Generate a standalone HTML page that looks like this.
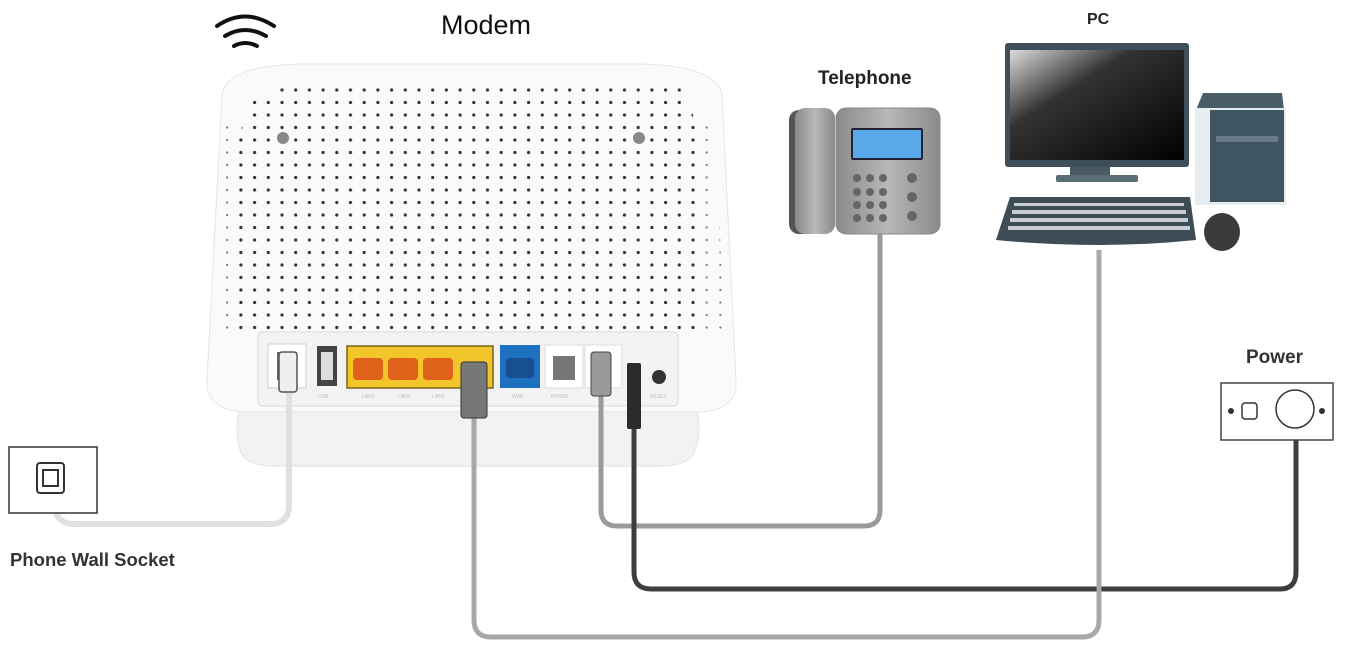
<!DOCTYPE html>
<html><head><meta charset="utf-8">
<style>
html,body{margin:0;padding:0;background:#fff;width:1365px;height:649px;overflow:hidden}
text{font-family:"Liberation Sans",sans-serif}
</style></head><body>
<svg width="1365" height="649" viewBox="0 0 1365 649" xmlns="http://www.w3.org/2000/svg">
<defs>
<pattern id="dots" x="2" y="84" width="13.7" height="12.5" patternUnits="userSpaceOnUse">
<circle cx="6" cy="6" r="1.6" fill="#333"/>
</pattern>
<pattern id="dots2" x="2" y="84" width="13.7" height="12.5" patternUnits="userSpaceOnUse">
<circle cx="6" cy="6" r="1.1" fill="#777"/>
</pattern>
<clipPath id="bodyclip"><path d="M280,88 L440,86 L680,88 L690,100 L698,140 L700,330 L238,330 L238,140 L250,100 Z"/></clipPath>
<clipPath id="edgeclip"><path d="M222,125 L238,125 L238,330 L225,340 Z M700,125 L716,125 L724,340 L700,330 Z"/></clipPath>
<linearGradient id="scr" x1="0" y1="0" x2="1" y2="1"><stop offset="0" stop-color="#ddd"/><stop offset="0.35" stop-color="#333"/><stop offset="1" stop-color="#000"/></linearGradient>
<linearGradient id="tel" x1="0" y1="0" x2="1" y2="0"><stop offset="0" stop-color="#8a8a8a"/><stop offset="0.5" stop-color="#b8b8b8"/><stop offset="1" stop-color="#8a8a8a"/></linearGradient>
</defs>

<!-- wifi -->
<g fill="none" stroke="#111" stroke-width="4" stroke-linecap="round">
<path d="M217,26 Q245,7 274,26"/>
<path d="M225,36 Q245,24 266,36"/>
<path d="M234,46 Q245,40 257,46"/>
</g>
<text x="441" y="34" font-size="27" fill="#111">Modem</text>

<!-- modem base -->
<path d="M245,400 L690,400 Q705,420 695,450 Q690,466 660,466 L275,466 Q245,466 240,450 Q232,420 245,400Z" fill="#f2f2f2" stroke="#e2e2e2"/>
<!-- modem body -->
<path d="M222,95 Q226,66 300,64 L640,64 Q718,66 722,95 L736,380 Q738,410 700,412 L245,412 Q205,410 207,380 Z" fill="#fafafa" stroke="#e6e6e6"/>
<rect x="220" y="80" width="500" height="260" fill="url(#dots)" clip-path="url(#bodyclip)"/>
<rect x="210" y="80" width="520" height="270" fill="url(#dots2)" clip-path="url(#edgeclip)"/>
<circle cx="283" cy="138" r="6" fill="#888"/>
<circle cx="639" cy="138" r="6" fill="#888"/>
<!-- port panel -->
<rect x="258" y="332" width="420" height="74" rx="4" fill="#f3f3f3" stroke="#d8d8d8"/>
<rect x="268" y="344" width="38" height="44" fill="#fff" stroke="#ccc"/>
<rect x="277" y="352" width="20" height="28" fill="#666"/>
<rect x="317" y="346" width="20" height="40" fill="#444"/>
<rect x="321" y="352" width="12" height="28" fill="#ddd"/>
<rect x="347" y="346" width="146" height="42" fill="#f2c52b" stroke="#7a6418" stroke-width="1.5"/>
<rect x="353" y="358" width="30" height="22" rx="4" fill="#e0621a"/>
<rect x="388" y="358" width="30" height="22" rx="4" fill="#e0621a"/>
<rect x="423" y="358" width="30" height="22" rx="4" fill="#e0621a"/>
<rect x="500" y="345" width="40" height="43" fill="#1f6fc0"/>
<rect x="506" y="358" width="28" height="20" rx="4" fill="#174f90"/>
<rect x="545" y="345" width="38" height="43" fill="#fff" stroke="#ddd"/>
<rect x="553" y="356" width="22" height="24" fill="#777"/>
<rect x="585" y="345" width="37" height="43" fill="#fff" stroke="#ddd"/>
<circle cx="659" cy="377" r="7" fill="#333"/>
<g font-size="5" fill="#bbb"><text x="318" y="398">USB</text><text x="362" y="398">LAN1</text><text x="398" y="398">LAN2</text><text x="432" y="398">LAN3</text><text x="512" y="398">WAN</text><text x="551" y="398">PHONE</text><text x="650" y="398">RESET</text></g>

<!-- cables -->
<path d="M289,390 L289,505 Q289,524 270,524 L75,524 Q55,524 55,505 L55,490" fill="none" stroke="#e0e0e0" stroke-width="6"/>
<path d="M601,390 L601,510 Q601,526 617,526 L864,526 Q880,526 880,510 L880,230" fill="none" stroke="#9a9a9a" stroke-width="5"/>
<path d="M634,400 L634,572 Q634,589 651,589 L1280,589 Q1296,589 1296,572 L1296,440" fill="none" stroke="#3e3e3e" stroke-width="5"/>
<path d="M474,400 L474,620 Q474,637 491,637 L1082,637 Q1099,637 1099,620 L1099,250" fill="none" stroke="#a8a8a8" stroke-width="5"/>
<!-- plugs -->
<rect x="279" y="352" width="18" height="40" rx="3" fill="#eee" stroke="#555" stroke-width="1.5"/>
<rect x="461" y="362" width="26" height="56" rx="3" fill="#777" stroke="#333"/>
<rect x="591" y="352" width="20" height="44" rx="3" fill="#999" stroke="#444"/>
<rect x="627" y="363" width="14" height="66" rx="2" fill="#2b2b2b"/>

<!-- telephone -->
<text x="818" y="84" font-size="19" font-weight="bold" fill="#222">Telephone</text>
<rect x="789" y="110" width="44" height="124" rx="10" fill="#555"/>
<rect x="795" y="108" width="40" height="126" rx="10" fill="url(#tel)"/>
<rect x="836" y="108" width="104" height="126" rx="10" fill="url(#tel)" stroke="#888"/>
<rect x="851" y="128" width="72" height="32" fill="#223" rx="2"/>
<rect x="853" y="130" width="68" height="28" fill="#5aa8e8"/>
<g fill="#666">
<circle cx="857" cy="178" r="4"/><circle cx="870" cy="178" r="4"/><circle cx="883" cy="178" r="4"/>
<circle cx="857" cy="192" r="4"/><circle cx="870" cy="192" r="4"/><circle cx="883" cy="192" r="4"/>
<circle cx="857" cy="205" r="4"/><circle cx="870" cy="205" r="4"/><circle cx="883" cy="205" r="4"/>
<circle cx="857" cy="218" r="4"/><circle cx="870" cy="218" r="4"/><circle cx="883" cy="218" r="4"/>
<circle cx="912" cy="178" r="5"/><circle cx="912" cy="197" r="5"/><circle cx="912" cy="216" r="5"/>
</g>

<!-- PC -->
<text x="1087" y="24" font-size="16" font-weight="bold" fill="#222">PC</text>
<rect x="1005" y="43" width="184" height="124" rx="3" fill="#3d4f5a"/>
<rect x="1010" y="50" width="174" height="110" fill="url(#scr)"/>
<rect x="1070" y="167" width="40" height="10" fill="#4a5a64"/>
<rect x="1056" y="175" width="82" height="7" rx="2" fill="#5c6c76"/>
<path d="M1196,110 L1203,93 L1282,93 L1284,110Z" fill="#4a5e6a"/>
<rect x="1195" y="108" width="91" height="97" fill="#e8eef0"/>
<rect x="1210" y="110" width="74" height="92" fill="#3f5662"/>
<rect x="1216" y="136" width="62" height="6" fill="#677c87"/>
<path d="M996,240 L1010,197 L1190,197 L1196,240 Q1100,250 996,240Z" fill="#3e4c55"/>
<g fill="#dfe4e8" opacity="0.85">
<rect x="1014" y="203" width="170" height="3"/>
<rect x="1012" y="210" width="174" height="4"/>
<rect x="1010" y="218" width="178" height="4"/>
<rect x="1008" y="226" width="182" height="4"/>
</g>
<ellipse cx="1222" cy="232" rx="18" ry="19" fill="#3b3b3b"/>

<!-- wall socket -->
<rect x="9" y="447" width="88" height="66" fill="#fff" stroke="#333" stroke-width="1.5"/>
<rect x="37" y="463" width="27" height="30" rx="3" fill="#fff" stroke="#333" stroke-width="2"/>
<rect x="43" y="470" width="15" height="16" fill="#fff" stroke="#333" stroke-width="2"/>
<text x="10" y="566" font-size="18.5" font-weight="bold" fill="#333">Phone Wall Socket</text>

<!-- power socket -->
<text x="1246" y="363" font-size="19" font-weight="bold" fill="#333">Power</text>
<rect x="1221" y="383" width="112" height="57" fill="#fff" stroke="#444" stroke-width="1.5"/>
<circle cx="1231" cy="411" r="3" fill="#333"/>
<circle cx="1322" cy="411" r="3" fill="#333"/>
<rect x="1242" y="403" width="15" height="16" rx="3" fill="#fff" stroke="#333" stroke-width="1.5"/>
<circle cx="1295" cy="409" r="19" fill="#fff" stroke="#333" stroke-width="1.5"/>
</svg>
</body></html>
